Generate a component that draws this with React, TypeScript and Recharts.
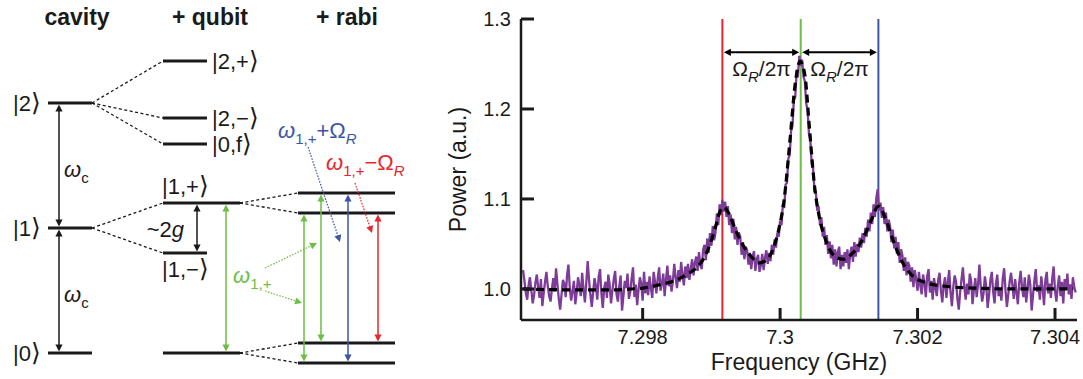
import React from "react";
import {
  ComposedChart,
  LineChart,
  Line,
  Scatter,
  XAxis,
  YAxis,
  ReferenceLine,
  ReferenceDot,
  Label,
} from "recharts";

const FONT = "'Liberation Sans', Arial, Helvetica, sans-serif";
const INK = "#1a1a1a";
const RED = "#E8262B";
const GREEN = "#6DBE45";
const BLUE = "#3A56A5";
const PURPLE = "#7D3C98";

// ---------- spectrum data ----------
const FREQ_START = 7.29626;
const FREQ_STEP = 0.00002;
const POWER = [
  // 7.29626 .. 7.29808, flat background
  1.021, 1.009, 0.996, 0.988, 1.004, 1.013, 0.999, 0.984, 0.993, 1.007,
  1.016, 1.002, 0.99, 1.011, 0.981, 0.995, 1.008, 1.019, 1.003, 0.992,
  0.986, 1.0, 1.012, 0.997, 1.023, 1.005, 0.989, 0.977, 0.994, 1.01,
  1.006, 0.991, 1.015, 1.027, 1.001, 0.987, 0.998, 1.009, 0.983, 0.996,
  1.013, 1.004, 0.992, 1.018, 0.999, 0.985, 1.007, 1.031, 1.01, 0.993,
  0.98, 0.997, 1.012, 1.003, 0.988, 1.014, 1.022, 0.995, 0.979, 1.001,
  1.008, 0.99, 1.016, 1.005, 0.984, 0.998, 1.011, 1.02, 0.994, 0.986,
  1.003, 1.015, 0.976, 0.992, 1.009, 1.001, 1.017, 0.989, 0.997, 1.012,
  1.024, 0.991, 1.005, 0.982, 0.999, 1.013, 1.006, 0.987, 1.019, 0.995,
  1.008, 0.993,
  // rising towards the red sideband
  1.014, 1.001, 0.99, 1.019, 1.008, 0.995, 1.012, 1.024, 0.998, 1.006,
  1.017, 0.992, 1.011, 1.026, 1.003, 1.015, 0.997, 1.009, 1.028, 1.013,
  1.001, 1.021, 1.008, 1.03, 1.016, 1.004, 1.025, 1.012,
  1.028, 1.01, 1.022, 1.033, 1.015, 1.029, 1.036, 1.02, 1.041, 1.026,
  1.022, 1.044, 1.049, 1.032, 1.056, 1.04, 1.062, 1.048, 1.07, 1.054,
  1.063, 1.084, 1.071, 1.094, 1.082, 1.099,
  // red sideband -> first dip
  1.086, 1.097, 1.08, 1.092, 1.071, 1.083, 1.062, 1.078, 1.055, 1.069,
  1.049, 1.063, 1.058, 1.038, 1.052, 1.033, 1.047, 1.043, 1.027, 1.04,
  1.022, 1.036, 1.042, 1.02, 1.033, 1.038, 1.019,
  // central peak
  1.026, 1.039, 1.021, 1.035, 1.043, 1.028, 1.04, 1.031, 1.049, 1.038,
  1.055, 1.046, 1.062, 1.058, 1.076, 1.071, 1.094, 1.09, 1.116, 1.118,
  1.145, 1.149, 1.176, 1.181, 1.21, 1.213, 1.24, 1.238, 1.259, 1.248,
  1.255, 1.236, 1.231, 1.206, 1.199, 1.172, 1.166, 1.139, 1.134, 1.109,
  1.108, 1.087, 1.092, 1.071, 1.08, 1.058, 1.069, 1.049, 1.06, 1.039,
  1.053, 1.034, 1.049, 1.027, 1.044, 1.025, 1.041, 1.047, 1.022, 1.038,
  // second dip -> blue sideband
  1.025, 1.041, 1.029, 1.044, 1.022, 1.039, 1.047, 1.03, 1.052, 1.036,
  1.05, 1.041, 1.057, 1.046, 1.062, 1.051, 1.068, 1.058, 1.077, 1.064,
  1.085, 1.072, 1.094, 1.08, 1.101, 1.111, 1.087,
  1.096, 1.079, 1.091, 1.072, 1.085, 1.064, 1.077, 1.07, 1.052, 1.066,
  1.045, 1.058, 1.039, 1.052, 1.029, 1.044, 1.037, 1.02, 1.035, 1.015,
  1.03, 1.026, 1.008, 1.024, 1.002, 1.021, 1.011, 0.998, 1.019, 1.004,
  0.994, 1.016, 1.007, 0.991, 1.014, 1.022, 0.996, 1.009, 0.988, 1.012,
  1.001,
  // tail .. 7.3043
  0.992, 1.01, 1.018, 0.998, 0.985, 1.004, 1.013, 0.99, 1.007, 1.021,
  0.996, 0.981, 1.002, 1.015, 1.008, 0.989, 0.977, 0.997, 1.011, 1.024,
  1.003, 0.988, 1.006, 0.994, 1.017, 1.009, 0.983, 0.999, 1.012, 0.991,
  1.005, 1.027, 1.001, 0.986, 0.995, 1.014, 1.003, 0.979, 0.993, 1.01,
  1.019, 0.997, 0.984, 1.006, 1.016, 0.992, 1.001, 0.987, 1.012, 1.023,
  0.998, 0.98, 0.994, 1.008, 1.018, 1.004, 0.989, 1.011, 0.996, 0.983,
  1.007, 1.02, 1.002, 0.991, 1.013, 0.985, 0.999, 1.016, 1.005, 0.976,
  0.993, 1.009, 1.022, 0.997, 1.004, 0.988, 1.014, 1.001, 0.982, 1.01,
  1.019, 0.995, 1.006, 0.99, 1.012, 1.025, 0.998, 0.986, 1.003, 1.015,
  0.992, 1.008, 0.984, 1.011, 0.999, 1.017, 0.994, 1.005, 0.989, 1.013,
  1.002, 0.996,
];

const FIT_FREQ = [
  7.29626, 7.297, 7.2975, 7.298, 7.29826, 7.29846, 7.29866, 7.29879, 7.29893, 7.29905,
  7.29912, 7.29918, 7.29926, 7.29935, 7.29945, 7.29958, 7.2997, 7.2998, 7.2999, 7.29998,
  7.30006, 7.30014, 7.30022, 7.30029, 7.30036, 7.30043, 7.3005, 7.30057, 7.30067, 7.3008,
  7.30092, 7.30106, 7.3012, 7.30133, 7.30143, 7.30153, 7.30163, 7.30177, 7.30192, 7.30212,
  7.3024, 7.3028, 7.3034, 7.30426,
];
const FIT_POWER = [
  1.0, 0.999, 0.999, 1.001, 1.005, 1.009, 1.017, 1.024, 1.04, 1.066,
  1.085, 1.091, 1.083, 1.066, 1.05, 1.036, 1.029, 1.032, 1.045, 1.066,
  1.1, 1.162, 1.228, 1.253, 1.238, 1.176, 1.115, 1.08, 1.053, 1.036,
  1.033, 1.04, 1.055, 1.077, 1.092, 1.079, 1.057, 1.031, 1.015, 1.007,
  1.003, 1.001, 1.0, 1.0,
];

const MARKER_FREQ = [7.29916, 7.3003, 7.30143];
const MARKER_COLORS = [RED, GREEN, BLUE];
const SPLIT_LEVEL = 1.263;
const X_DOMAIN = [7.29623, 7.30432];
const Y_DOMAIN = [0.9655, 1.3];
const X_TICKS = [7.298, 7.3, 7.302, 7.304];
const Y_TICKS = [1.0, 1.1, 1.2, 1.3];

const measured = POWER.map((p, i) => ({ f: FREQ_START + i * FREQ_STEP, p }));
const fitted = FIT_FREQ.map((f, i) => ({ f, p: FIT_POWER[i] }));

// ---------- level diagram data (energies, arb. units, up = higher) ----------
const CAVITY_LEVELS = [
  { label: "|0", e: 26 },
  { label: "|1", e: 151 },
  { label: "|2", e: 276 },
];
const QUBIT_LEVELS = [
  { label: "|2,+", e: 318, wide: false, labelE: 318, side: "right" },
  { label: "|2,−", e: 261, wide: false, labelE: 261, side: "right" },
  { label: "|0,f", e: 235, wide: false, labelE: 235, side: "right" },
  { label: "|1,+", e: 176, wide: true, labelE: 193, side: "above" },
  { label: "|1,−", e: 126, wide: false, labelE: 110, side: "below" },
  { label: "", e: 26, wide: true, labelE: 26, side: "none" },
];
const RABI_LEVELS = [186, 166, 36, 16];

// which cavity/qubit level splits into which
const SPLITS = [
  { from: "cavity", e: 276, to: [318, 261, 235] },
  { from: "cavity", e: 151, to: [176, 126] },
  { from: "qubit", e: 176, to: [186, 166] },
  { from: "qubit", e: 26, to: [36, 16] },
];

const COL = {
  cavity: [48, 92],
  qubit: [163, 207],
  qubitWide: [163, 240],
  rabi: [298, 395],
};

type Arrow = { x: number; e1: number; e2: number; color: string };
const TRANSITIONS: Arrow[] = [
  { x: 59, e1: 276, e2: 151, color: INK },
  { x: 59, e1: 151, e2: 26, color: INK },
  { x: 197, e1: 176, e2: 126, color: INK },
  { x: 226, e1: 176, e2: 26, color: GREEN },
  { x: 304, e1: 166, e2: 16, color: GREEN },
  { x: 321, e1: 186, e2: 36, color: GREEN },
  { x: 348, e1: 186, e2: 16, color: BLUE },
  { x: 378, e1: 166, e2: 36, color: RED },
];

const POINTERS = [
  { x1: 265, e1: 111, x2: 317, e2: 136, color: GREEN },
  { x1: 265, e1: 88, x2: 302, e2: 76, color: GREEN },
  { x1: 308, e1: 232, x2: 340, e2: 137, color: BLUE },
  { x1: 355, e1: 196, x2: 372, e2: 146, color: RED },
];

const levelAnchors = [
  ...CAVITY_LEVELS.map((l) => ({ x: COL.cavity[0], e: l.e })),
  ...QUBIT_LEVELS.map((l) => ({ x: COL.qubit[0], e: l.e })),
  ...RABI_LEVELS.map((e) => ({ x: COL.rabi[0], e })),
];

function arrowShape(color: string, width: number, both: boolean, dash?: string) {
  return (p: any) => {
    const { x1, y1, x2, y2 } = p;
    const dx = x2 - x1;
    const dy = y2 - y1;
    const len = Math.hypot(dx, dy) || 1;
    const ux = dx / len;
    const uy = dy / len;
    const L = 7;
    const W = 3.6;
    const head = (tx: number, ty: number, sx: number, sy: number) => {
      const bx = tx - sx * L;
      const by = ty - sy * L;
      return `${tx},${ty} ${bx - sy * W},${by + sx * W} ${bx + sy * W},${by - sx * W}`;
    };
    const s = both ? L * 0.7 : 0;
    return (
      <g>
        <line
          x1={x1 + ux * s}
          y1={y1 + uy * s}
          x2={x2 - ux * L * 0.7}
          y2={y2 - uy * L * 0.7}
          stroke={color}
          strokeWidth={width}
          strokeDasharray={dash}
        />
        {both && <polygon points={head(x1, y1, -ux, -uy)} fill={color} />}
        <polygon points={head(x2, y2, ux, uy)} fill={color} />
      </g>
    );
  };
}

function textAt(node: React.ReactNode, anchor: string, middle = false) {
  return (p: any) => (
    <text
      x={p.cx}
      y={p.cy}
      dy={middle ? "0.36em" : 0}
      textAnchor={anchor}
      fontFamily={FONT}
      fontSize={22}
      fill={INK}
    >
      {node}
    </text>
  );
}

// ket label: body text plus a tall thin closing bracket
const ket = (body: string) => (
  <>
    {body}
    <tspan fontFamily="'DejaVu Sans', sans-serif" fontSize={25} fontWeight={200}>
      ⟩
    </tspan>
  </>
);

const sub = (s: string, color?: string, italic = false) => (
  <tspan dy={6} fontSize={15} fill={color} fontStyle={italic ? "italic" : "normal"}>
    {s}
  </tspan>
);

const title = (t: string) => (p: any) => (
  <text x={p.cx} y={p.cy} textAnchor="middle" fontFamily={FONT} fontSize={23} fontWeight="bold" fill={INK}>
    {t}
  </text>
);

function LevelDiagram() {
  const lvl = (x0: number, x1: number, e: number, k: string) => (
    <ReferenceLine
      key={k}
      segment={[
        { x: x0, y: e },
        { x: x1, y: e },
      ]}
      stroke={INK}
      strokeWidth={3}
      ifOverflow="visible"
    />
  );
  const links: React.ReactNode[] = [];
  SPLITS.forEach((s, i) => {
    const fromX = s.from === "cavity" ? COL.cavity[1] : COL.qubitWide[1];
    const toX = s.from === "cavity" ? COL.qubit[0] : COL.rabi[0];
    s.to.forEach((e, j) => {
      links.push(
        <ReferenceLine
          key={`l${i}-${j}`}
          segment={[
            { x: fromX, y: s.e },
            { x: toX, y: e },
          ]}
          stroke={INK}
          strokeWidth={1.3}
          strokeDasharray="3 2.5"
          ifOverflow="visible"
        />
      );
    });
  });

  return (
    <ComposedChart width={415} height={379} margin={{ top: 0, right: 0, bottom: 0, left: 0 }}>
      <XAxis type="number" dataKey="x" domain={[0, 415]} allowDataOverflow hide />
      <YAxis type="number" dataKey="e" domain={[0, 379]} allowDataOverflow hide />
      <Scatter data={levelAnchors} dataKey="e" shape={() => <g />} isAnimationActive={false} />
      {links}
      {CAVITY_LEVELS.map((l, i) => lvl(COL.cavity[0], COL.cavity[1], l.e, `c${i}`))}
      {QUBIT_LEVELS.map((l, i) =>
        lvl(COL.qubit[0], l.wide ? COL.qubitWide[1] : COL.qubit[1], l.e, `q${i}`)
      )}
      {RABI_LEVELS.map((e, i) => lvl(COL.rabi[0], COL.rabi[1], e, `r${i}`))}
      {TRANSITIONS.map((a, i) => (
        <ReferenceLine
          key={`t${i}`}
          segment={[
            { x: a.x, y: a.e1 - 1.5 },
            { x: a.x, y: a.e2 + 1.5 },
          ]}
          ifOverflow="visible"
          shape={arrowShape(a.color, 1.5, true)}
        />
      ))}
      {POINTERS.map((a, i) => (
        <ReferenceLine
          key={`p${i}`}
          segment={[
            { x: a.x1, y: a.e1 },
            { x: a.x2, y: a.e2 },
          ]}
          ifOverflow="visible"
          shape={arrowShape(a.color, 1.2, false, "1.6 1.4")}
        />
      ))}
      {/* column titles */}
      <ReferenceDot x={77} y={354} r={1} ifOverflow="visible" shape={title("cavity")} />
      <ReferenceDot x={210} y={354} r={1} ifOverflow="visible" shape={title("+ qubit")} />
      <ReferenceDot x={347} y={354} r={1} ifOverflow="visible" shape={title("+ rabi")} />
      {/* level labels */}
      {CAVITY_LEVELS.map((l, i) => (
        <ReferenceDot key={`cl${i}`} x={41} y={l.e} r={1} ifOverflow="visible" shape={textAt(ket(l.label), "end", true)} />
      ))}
      {QUBIT_LEVELS.filter((l) => l.side !== "none").map((l, i) => (
        <ReferenceDot
          key={`ql${i}`}
          x={l.side === "right" ? 212 : 162}
          y={l.labelE}
          r={1}
          ifOverflow="visible"
          shape={textAt(ket(l.label), "start", true)}
        />
      ))}
      {/* transition labels */}
      <ReferenceDot x={64} y={202} r={1} ifOverflow="visible"
        shape={textAt(<><tspan fontStyle="italic">ω</tspan>{sub("c")}</>, "start")} />
      <ReferenceDot x={64} y={77} r={1} ifOverflow="visible"
        shape={textAt(<><tspan fontStyle="italic">ω</tspan>{sub("c")}</>, "start")} />
      <ReferenceDot x={184} y={142} r={1} ifOverflow="visible"
        shape={textAt(<>~2<tspan fontStyle="italic">g</tspan></>, "end")} />
      <ReferenceDot x={233} y={96} r={1} ifOverflow="visible"
        shape={textAt(<tspan fill={GREEN}><tspan fontStyle="italic">ω</tspan>{sub("1,+", GREEN)}</tspan>, "start")} />
      <ReferenceDot x={278} y={241} r={1} ifOverflow="visible"
        shape={textAt(
          <tspan fill={BLUE}>
            <tspan fontStyle="italic">ω</tspan>
            {sub("1,+", BLUE)}
            <tspan dy={-6}>+Ω</tspan>
            {sub("R", BLUE, true)}
          </tspan>,
          "start"
        )} />
      <ReferenceDot x={326} y={209} r={1} ifOverflow="visible"
        shape={textAt(
          <tspan fill={RED}>
            <tspan fontStyle="italic">ω</tspan>
            {sub("1,+", RED)}
            <tspan dy={-6}>−Ω</tspan>
            {sub("R", RED, true)}
          </tspan>,
          "start"
        )} />
    </ComposedChart>
  );
}

const TICK_TEXT = { fontSize: 20, fontFamily: FONT, fill: INK };

function SpectrumChart() {
  return (
    <LineChart width={663} height={379} margin={{ top: 19, right: 6, bottom: 19, left: 41 }}>
      {/* negative tickSize points the tick marks into the plot; tickMargin pushes labels back out */}
      <XAxis
        type="number"
        dataKey="f"
        domain={X_DOMAIN}
        allowDataOverflow
        ticks={X_TICKS}
        tick={TICK_TEXT}
        tickFormatter={(v: number) => String(v)}
        tickSize={-12}
        tickMargin={22}
        tickLine={{ stroke: INK, strokeWidth: 3 }}
        height={40}
        axisLine={{ stroke: INK, strokeWidth: 2.5 }}
        label={
          <Label
            content={(p: any) => (
              <text
                x={p.viewBox.x + p.viewBox.width / 2}
                y={p.viewBox.y + 50}
                textAnchor="middle"
                fontFamily={FONT}
                fontSize={23}
                fill={INK}
              >
                Frequency (GHz)
              </text>
            )}
          />
        }
      />
      <YAxis
        type="number"
        domain={Y_DOMAIN}
        allowDataOverflow
        ticks={Y_TICKS}
        tick={TICK_TEXT}
        tickFormatter={(v: number) => v.toFixed(1)}
        tickSize={-13}
        tickMargin={23}
        tickLine={{ stroke: INK, strokeWidth: 3 }}
        width={60}
        axisLine={{ stroke: INK, strokeWidth: 2.5 }}
        label={
          <Label
            content={(p: any) => {
              const cx = p.viewBox.x + 5;
              const cy = p.viewBox.y + p.viewBox.height / 2;
              return (
                <text
                  x={cx}
                  y={cy}
                  transform={`rotate(-90, ${cx}, ${cy})`}
                  textAnchor="middle"
                  fontFamily={FONT}
                  fontSize={23}
                  fill={INK}
                >
                  Power (a.u.)
                </text>
              );
            }}
          />
        }
      />
      {MARKER_FREQ.map((f, i) => (
        <ReferenceLine key={f} x={f} stroke={MARKER_COLORS[i]} strokeWidth={2} />
      ))}
      <Line
        data={measured}
        dataKey="p"
        type="linear"
        stroke={PURPLE}
        strokeWidth={2.3}
        dot={false}
        isAnimationActive={false}
      />
      <Line
        data={fitted}
        dataKey="p"
        type="monotone"
        stroke="#000"
        strokeWidth={3.2}
        strokeDasharray="8 5"
        dot={false}
        isAnimationActive={false}
      />
      {[0, 1].map((k) => (
        <ReferenceLine
          key={`split${k}`}
          segment={[
            { x: MARKER_FREQ[k], y: SPLIT_LEVEL },
            { x: MARKER_FREQ[k + 1], y: SPLIT_LEVEL },
          ]}
          shape={(p: any) => (
            <g>
              {arrowShape("#000", 2, true)({ ...p, x1: p.x1 + 1.5, x2: p.x2 - 1.5 })}
              <text
                x={(p.x1 + p.x2) / 2}
                y={p.y1 + 24}
                textAnchor="middle"
                fontFamily={FONT}
                fontSize={21}
                fill={INK}
              >
                Ω<tspan dy={6} fontSize={15} fontStyle="italic">R</tspan>
                <tspan dy={-6}>/2π</tspan>
              </text>
            </g>
          )}
        />
      ))}
    </LineChart>
  );
}

export default function App() {
  return (
    <div style={{ position: "absolute", left: 0, top: 0, width: 1083, height: 379, background: "#fff" }}>
      <div style={{ position: "absolute", left: 0, top: 0 }}>
        <LevelDiagram />
      </div>
      <div style={{ position: "absolute", left: 420, top: 0 }}>
        <SpectrumChart />
      </div>
    </div>
  );
}
